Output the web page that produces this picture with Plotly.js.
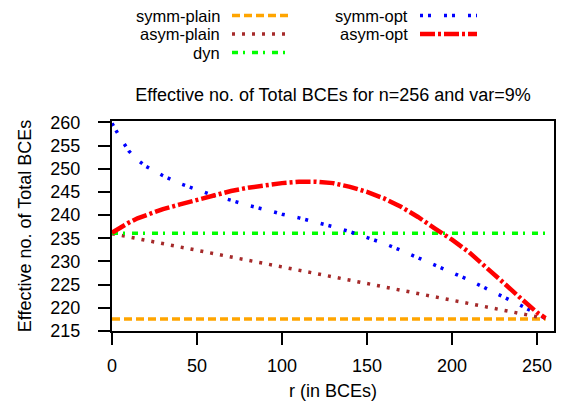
<!DOCTYPE html>
<html><head><meta charset="utf-8">
<script src="https://cdn.plot.ly/plotly-3.0.1.min.js"></script>
<style>html,body{margin:0;padding:0;background:#fff}</style>
</head><body>
<div id="chart" style="width:570px;height:401px"></div>
<script>
// ---- data ----
const rFull = [0, 255];
const symmPlain = [217.6, 217.6];
const dyn = [236.1, 236.1];
const asymPlain = [236.0, 217.7];

const rOpt = [0,5,10,15,20,30,40,50,60,70,80,90,100,110,120,130,140,150,160,170,180,190,200,210,220,230,240,250,255];
const symmOpt = [259.8,256.6,253.8,251.9,250.5,248.5,246.8,245.4,244.2,243.2,242.1,241.2,240.2,239.4,238.5,237.5,236.4,235.2,233.9,232.4,230.8,229.3,227.7,226.0,224.2,222.5,220.6,218.7,217.7];
const asymOpt = [236.2,237.4,238.4,239.3,240.0,241.3,242.3,243.3,244.3,245.2,245.9,246.5,246.9,247.2,247.2,246.9,246.1,245.0,243.6,241.8,239.6,237.1,234.7,232.0,228.9,225.5,222.2,219.0,217.8];

const seriesNames = ['symm-plain','asym-plain','dyn','symm-opt','asym-opt'];
const titleText = 'Effective no. of Total BCEs for n=256 and var=9%';
const xTitle = 'r (in BCEs)';
const yTitle = 'Effective no. of Total BCEs';
const xTicks = [0,50,100,150,200,250];
const yTicks = [215,220,225,230,235,240,245,250,255,260];

// ---- styles ----
const styles = {
  'symm-plain': {color:'#FFA500', width:3.5, dash:'8px,4px'},
  'asym-plain': {color:'#A52A2A', width:3.5, dash:'3px,7px'},
  'dyn':        {color:'#00FF00', width:3.5, dash:'6px,5px,2px,7px'},
  'symm-opt':   {color:'#0000FF', width:3.5, dash:'3px,5px,3px,13px'},
  'asym-opt':   {color:'#FF0000', width:4.5, dash:'15px,3px,3px,3px'}
};

const M = {l:112, r:16, t:121, b:70};
const W = 570, H = 401;
const pw = W - M.l - M.r, ph = H - M.t - M.b;
const px2x = p => (p - M.l)/pw;
const py2y = p => (H - M.b - p)/ph;

const traces = [
  {x:rFull, y:symmPlain, name:seriesNames[0]},
  {x:rFull, y:asymPlain, name:seriesNames[1]},
  {x:rFull, y:dyn, name:seriesNames[2]},
  {x:rOpt, y:symmOpt, name:seriesNames[3]},
  {x:rOpt, y:asymOpt, name:seriesNames[4]}
].map(t => Object.assign(t, {type:'scatter', mode:'lines', line:styles[t.name], showlegend:false, hoverinfo:'skip'}));

const fam = '"Liberation Sans", Arial, sans-serif';
const font = {family:fam, size:18, color:'#000'};
const legFont = {family:fam, size:16.5, color:'#000'};

// custom legend (label right-aligned, sample on the right)
const legendItems = [
  {name:'symm-plain', tx:221, x0:232, x1:288, y:15.5},
  {name:'asym-plain', tx:221, x0:232, x1:288, y:34},
  {name:'dyn',        tx:221, x0:232, x1:288, y:52.5},
  {name:'symm-opt',   tx:409, x0:420, x1:477, y:15.5},
  {name:'asym-opt',   tx:409, x0:420, x1:477, y:34}
];
const annotations = legendItems.map(it => ({
  xref:'paper', yref:'paper', x:px2x(it.tx), y:py2y(it.y), xanchor:'right', yanchor:'middle',
  text:it.name, showarrow:false, font:legFont, borderpad:0
}));
const shapes = legendItems.map(it => ({
  type:'line', xref:'paper', yref:'paper', x0:px2x(it.x0), x1:px2x(it.x1), y0:py2y(it.y), y1:py2y(it.y),
  line:styles[it.name]
}));

const layout = {
  width:W, height:H, margin:M,
  paper_bgcolor:'#fff', plot_bgcolor:'#fff',
  font:font,
  title:{text:titleText, font:font, xref:'paper', x:0.5, xanchor:'center', yref:'container', y:(H-95)/H, yanchor:'middle'},
  xaxis:{range:[0,260], tickmode:'array', tickvals:xTicks, ticks:'outside', ticklen:12, tickwidth:2, tickcolor:'#000',
    showline:true, linewidth:2, linecolor:'#000', mirror:true, showgrid:false, zeroline:false,
    ticklabelstandoff:5,
    title:{text:xTitle, font:font, standoff:10}},
  yaxis:{range:[215,260.3], tickmode:'array', tickvals:yTicks, ticks:'outside', ticklen:12, tickwidth:2, tickcolor:'#000',
    showline:true, linewidth:2, linecolor:'#000', mirror:true, showgrid:false, zeroline:false,
    ticklabelstandoff:14,
    title:{text:yTitle, font:font, standoff:14}},
  annotations:annotations, shapes:shapes
};

Plotly.newPlot('chart', traces, layout, {staticPlot:true, displayModeBar:false});
</script>
</body></html>
